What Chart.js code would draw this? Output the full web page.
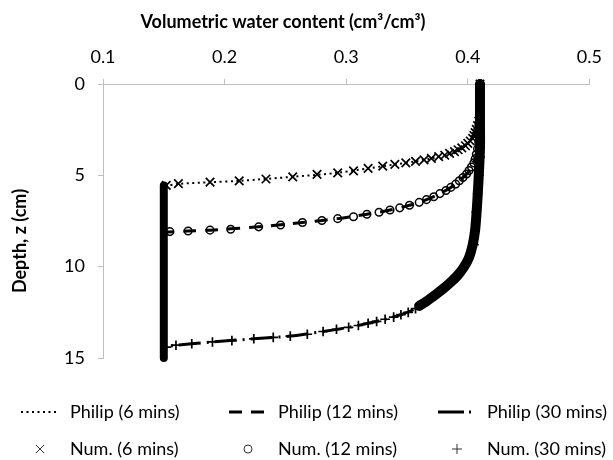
<!DOCTYPE html>
<html>
<head>
<meta charset="utf-8">
<script src="https://cdn.jsdelivr.net/npm/chart.js@4.4.1/dist/chart.umd.min.js"></script>
<style>
  html, body { margin: 0; padding: 0; background: #fff; }
  #wrap { width: 613px; height: 460px; }
</style>
</head>
<body>
<div id="wrap"><canvas id="myChart" width="613" height="460"></canvas></div>
<script>
// axis ticks
const thetaTicks = [0.1, 0.2, 0.3, 0.4, 0.5];
const depthTicks = [0, 5, 10, 15];

const xTitle = "Volumetric water content (cm³/cm³)";
const yTitle = "Depth, z (cm)";

// Philip solution, water content vs depth (cm)
const philip6Theta = [0.41, 0.41, 0.409, 0.408, 0.406, 0.404, 0.4, 0.395, 0.389, 0.381, 0.37, 0.357, 0.34, 0.318, 0.293, 0.256, 0.212, 0.188, 0.162, 0.15];
const philip6Depth = [0, 1.5, 2.05, 2.3, 2.65, 2.98, 3.25, 3.5, 3.7, 3.9, 4.07, 4.24, 4.4, 4.62, 4.86, 5.08, 5.3, 5.38, 5.47, 5.6];

const philip12Theta = [0.41, 0.41, 0.409, 0.408, 0.406, 0.403, 0.399, 0.393, 0.386, 0.377, 0.366, 0.352, 0.336, 0.317, 0.293, 0.264, 0.228, 0.188, 0.17, 0.15];
const philip12Depth = [0, 3.0, 3.3, 3.6, 4.1, 4.54, 4.93, 5.3, 5.66, 6.0, 6.33, 6.64, 6.9, 7.13, 7.37, 7.58, 7.82, 8.0, 8.05, 8.12];

const philip30Theta = [0.41, 0.41, 0.409, 0.407, 0.405, 0.401, 0.395, 0.387, 0.378, 0.367, 0.357, 0.345, 0.332, 0.318, 0.302, 0.281, 0.254, 0.224, 0.19, 0.16, 0.15];
const philip30Depth = [0, 3, 5, 7, 8.5, 9.5, 10.2, 10.8, 11.3, 11.85, 12.3, 12.63, 12.88, 13.1, 13.32, 13.55, 13.8, 13.95, 14.12, 14.3, 14.4];

// numerical solution
const num6Theta = [0.41, 0.41, 0.41, 0.41, 0.41, 0.41, 0.41, 0.409, 0.408, 0.407, 0.406, 0.405, 0.404, 0.402, 0.4, 0.398, 0.395, 0.392, 0.389, 0.385, 0.381, 0.376, 0.37, 0.364, 0.357, 0.349, 0.34, 0.33, 0.318, 0.306, 0.293, 0.276, 0.256, 0.234, 0.212, 0.188, 0.162, 0.152];
const num6Depth = [0, 0.3, 0.6, 0.9, 1.2, 1.5, 1.8, 2.05, 2.28, 2.48, 2.66, 2.82, 2.98, 3.12, 3.25, 3.38, 3.5, 3.6, 3.7, 3.8, 3.9, 3.98, 4.07, 4.15, 4.24, 4.32, 4.4, 4.5, 4.62, 4.76, 4.87, 4.95, 5.08, 5.2, 5.3, 5.37, 5.45, 5.55];

const num12Theta = [0.41, 0.41, 0.41, 0.41, 0.41, 0.41, 0.41, 0.41, 0.409, 0.408, 0.407, 0.406, 0.405, 0.403, 0.401, 0.399, 0.396, 0.393, 0.39, 0.386, 0.382, 0.377, 0.372, 0.366, 0.36, 0.352, 0.344, 0.336, 0.327, 0.317, 0.306, 0.293, 0.28, 0.264, 0.246, 0.228, 0.205, 0.188, 0.17, 0.155];
const num12Depth = [0, 0.4, 0.8, 1.2, 1.6, 2.0, 2.4, 2.8, 3.2, 3.55, 3.85, 4.1, 4.32, 4.54, 4.74, 4.93, 5.12, 5.3, 5.48, 5.66, 5.83, 6.0, 6.17, 6.33, 6.48, 6.64, 6.78, 6.9, 7.02, 7.13, 7.27, 7.37, 7.47, 7.58, 7.72, 7.82, 7.95, 8.0, 8.05, 8.08];

const num30Theta = [0.41, 0.41, 0.41, 0.41, 0.41, 0.409, 0.408, 0.407, 0.406, 0.405, 0.401, 0.397, 0.393, 0.389, 0.384, 0.378, 0.372, 0.367, 0.362, 0.357, 0.351, 0.345, 0.339, 0.332, 0.325, 0.318, 0.31, 0.302, 0.292, 0.281, 0.268, 0.254, 0.24, 0.224, 0.206, 0.19, 0.173, 0.16, 0.152];
const num30Depth = [0, 1, 2, 3, 4, 5, 6, 7, 8, 8.8, 9.5, 9.95, 10.35, 10.65, 10.95, 11.3, 11.6, 11.85, 12.1, 12.3, 12.5, 12.63, 12.76, 12.88, 13.0, 13.1, 13.22, 13.32, 13.43, 13.55, 13.7, 13.8, 13.87, 13.95, 14.05, 14.12, 14.22, 14.3, 14.4];

// where the numerical markers are packed so tight they read as a solid line
const wetBandTheta = [0.41, 0.41, 0.41, 0.409, 0.408, 0.407, 0.406, 0.404, 0.401, 0.397, 0.392, 0.386, 0.379, 0.372, 0.366, 0.36];
const wetBandDepth = [0, 2, 3.5, 5, 6.2, 7.2, 8.0, 8.8, 9.5, 10.0, 10.45, 10.85, 11.25, 11.6, 11.9, 12.15];
const dryBandTheta = [0.15, 0.15];
const dryBandDepth = [5.55, 15];

function pts(xs, ys) {
  return xs.map((x, i) => ({ x: x, y: ys[i] }));
}

Chart.defaults.font.family = "Lato, 'Open Sans', sans-serif";
Chart.defaults.color = "#000";

const axisTitles = {
  id: "axisTitles",
  afterDraw(chart) {
    const ctx = chart.ctx;
    ctx.save();
    ctx.fillStyle = "#000";
    ctx.font = "bold 18px Lato";
    ctx.textAlign = "center";
    ctx.textBaseline = "middle";
    ctx.fillText(xTitle, 283, 22);
    ctx.translate(20, 241);
    ctx.rotate(-Math.PI / 2);
    ctx.fillText(yTitle, 0, 0);
    ctx.restore();
  }
};

// Excel-like legend: 3 columns x 2 rows
const legendGrid = {
  id: "legendGrid",
  afterDraw(chart) {
    const ctx = chart.ctx;
    const sampleX = [40, 248, 457];
    const textX = [70, 278, 487];
    const rowY = [412, 449];
    let k = 0;
    chart.data.datasets.forEach(ds => {
      if (!ds.label) return;
      const col = k % 3, row = Math.floor(k / 3);
      k++;
      const cx = sampleX[col], cy = rowY[row];
      ctx.save();
      ctx.strokeStyle = "#000";
      if (ds.showLine) {
        ctx.lineWidth = ds.borderWidth;
        ctx.setLineDash(ds.legendDash || ds.borderDash || []);
        ctx.beginPath();
        ctx.moveTo(cx - 19, cy);
        ctx.lineTo(cx + 19, cy);
        ctx.stroke();
      } else {
        ctx.lineWidth = 1;
        ctx.strokeStyle = "#333";
        ctx.beginPath();
        if (ds.pointStyle === "crossRot") {
          ctx.moveTo(cx - 4, cy - 4); ctx.lineTo(cx + 4, cy + 4);
          ctx.moveTo(cx - 4, cy + 4); ctx.lineTo(cx + 4, cy - 4);
        } else if (ds.pointStyle === "circle") {
          ctx.arc(cx, cy, 4, 0, Math.PI * 2);
        } else {
          ctx.moveTo(cx - 5, cy); ctx.lineTo(cx + 5, cy);
          ctx.moveTo(cx, cy - 5); ctx.lineTo(cx, cy + 5);
        }
        ctx.stroke();
      }
      ctx.setLineDash([]);
      ctx.fillStyle = "#000";
      ctx.font = "18px Lato";
      ctx.textAlign = "left";
      ctx.textBaseline = "middle";
      ctx.fillText(ds.label, textX[col], cy);
      ctx.restore();
    });
  }
};

const lineBase = { showLine: true, pointRadius: 0, borderColor: "#000", fill: false, clip: false, tension: 0.3 };
const markBase = { showLine: false, borderColor: "#000", backgroundColor: "rgba(255,255,255,0)", clip: false };

const ctx = document.getElementById("myChart").getContext("2d");
const chart = new Chart(ctx, {
  type: "scatter",
  data: {
    datasets: [
      Object.assign({}, lineBase, { label: "Philip (6 mins)", data: pts(philip6Theta, philip6Depth), borderWidth: 2, borderDash: [2, 3.5] }),
      Object.assign({}, lineBase, { label: "Philip (12 mins)", data: pts(philip12Theta, philip12Depth), borderWidth: 3, borderDash: [13, 9] }),
      Object.assign({}, lineBase, { label: "Philip (30 mins)", data: pts(philip30Theta, philip30Depth), borderWidth: 3, borderDash: [22, 6, 2, 6], legendDash: [26, 5, 2, 5] }),
      Object.assign({}, markBase, { label: "Num. (6 mins)", data: pts(num6Theta, num6Depth), pointStyle: "crossRot", pointRadius: 6, pointBorderWidth: 1.7 }),
      Object.assign({}, markBase, { label: "Num. (12 mins)", data: pts(num12Theta, num12Depth), pointStyle: "circle", pointRadius: 3.8, pointBorderWidth: 1.5 }),
      Object.assign({}, markBase, { label: "Num. (30 mins)", data: pts(num30Theta, num30Depth), pointStyle: "cross", pointRadius: 4.8, pointBorderWidth: 1.7 }),
      Object.assign({}, lineBase, { data: pts(wetBandTheta, wetBandDepth), borderWidth: 10, borderCapStyle: "round", borderJoinStyle: "round" }),
      Object.assign({}, lineBase, { data: pts(dryBandTheta, dryBandDepth), borderWidth: 8, borderCapStyle: "round" })
    ]
  },
  options: {
    responsive: false,
    animation: false,
    devicePixelRatio: 1,
    layout: { padding: { top: 0, left: 0, right: 12, bottom: 102 } },
    plugins: { legend: { display: false }, tooltip: { enabled: false } },
    scales: {
      x: {
        type: "linear",
        position: "top",
        min: 0.1,
        max: 0.5,
        afterBuildTicks: s => { s.ticks = thetaTicks.map(v => ({ value: v })); },
        afterFit: s => { s.height = 84; },
        grid: { drawOnChartArea: false, drawTicks: true, tickLength: 5, color: "#bfbfbf" },
        border: { color: "#bfbfbf", width: 1 },
        ticks: { padding: 11, font: { size: 18 }, maxRotation: 0, callback: v => v.toFixed(1) }
      },
      y: {
        type: "linear",
        reverse: true,
        min: 0,
        max: 15,
        afterBuildTicks: s => { s.ticks = depthTicks.map(v => ({ value: v })); },
        afterFit: s => { s.width = 103; },
        grid: { drawOnChartArea: false, drawTicks: true, tickLength: 5, color: "#bfbfbf" },
        border: { color: "#bfbfbf", width: 1 },
        ticks: { padding: 13, font: { size: 18 } }
      }
    }
  },
  plugins: [axisTitles, legendGrid]
});
</script>
</body>
</html>
